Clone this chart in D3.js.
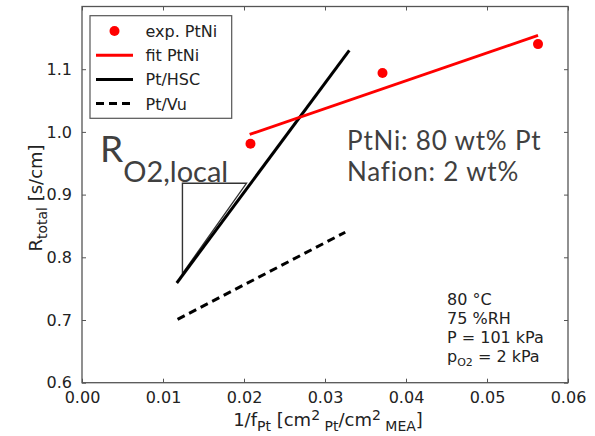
<!DOCTYPE html>
<html>
<head>
<meta charset="utf-8">
<script src="https://cdn.jsdelivr.net/npm/d3@7"></script>
<style>
  html, body { margin: 0; padding: 0; background: #fff; }
  svg { display: block; }
</style>
</head>
<body>
<svg id="chart" width="595" height="436"></svg>
<script>
// Measured points for PtNi and the linear fits
const expX = [0.0208, 0.0371, 0.0563];
const expY = [0.981, 1.094, 1.140];
const fitX = [0.0207, 0.0563];
const fitY = [0.996, 1.154];
const hscX = [0.0117, 0.0330];
const hscY = [0.759, 1.130];
const vuX = [0.0118, 0.0325];
const vuY = [0.701, 0.840];
// slope triangle (R_O2,local)
const triX = [0.0124, 0.0203, 0.0124];
const triY = [0.918, 0.918, 0.774];

const xTicks = [0.00, 0.01, 0.02, 0.03, 0.04, 0.05, 0.06];
const yTicks = [0.6, 0.7, 0.8, 0.9, 1.0, 1.1];

const svg = d3.select("#chart");
const pLeft = 82, pRight = 568, pTop = 6.5, pBottom = 382.7;
const x = d3.scaleLinear().domain([0, 0.06]).range([pLeft, pRight]);
const y = d3.scaleLinear().domain([0.6, 1.2]).range([pBottom, pTop]);

const FONT = "DejaVu Sans";
const AX = "#555";

// axes with inward ticks on all four sides
const xAxisB = d3.axisBottom(x).tickValues(xTicks).tickFormat(d3.format(".2f")).tickSizeInner(-4).tickSizeOuter(0).tickPadding(9);
const xAxisT = d3.axisTop(x).tickValues(xTicks).tickFormat("").tickSizeInner(-4).tickSizeOuter(0);
const yAxisL = d3.axisLeft(y).tickValues(yTicks).tickFormat(d3.format(".1f")).tickSizeInner(-4).tickSizeOuter(0).tickPadding(10);
const yAxisR = d3.axisRight(y).tickValues(yTicks).tickFormat("").tickSizeInner(-4).tickSizeOuter(0);

function style(g) {
  g.select(".domain").remove();
  g.selectAll(".tick line").attr("stroke", AX).attr("stroke-width", 1);
  g.selectAll(".tick text").attr("fill", "#222").style("font-family", FONT).style("font-size", "16px");
}
svg.append("g").attr("transform", `translate(0,${pBottom})`).call(xAxisB).call(style);
svg.append("g").attr("transform", `translate(0,${pTop})`).call(xAxisT).call(style);
svg.append("g").attr("transform", `translate(${pLeft},0)`).call(yAxisL).call(style);
svg.append("g").attr("transform", `translate(${pRight},0)`).call(yAxisR).call(style);

// frame
svg.append("rect").attr("x", pLeft).attr("y", pTop).attr("width", pRight - pLeft).attr("height", pBottom - pTop)
  .attr("fill", "none").attr("stroke", AX).attr("stroke-width", 1.3);

const line = d3.line().x(d => x(d[0])).y(d => y(d[1]));
const zip = (a, b) => a.map((v, i) => [v, b[i]]);

// slope triangle
svg.append("path").attr("d", line(zip(triX, triY)) + "Z")
  .attr("fill", "none").attr("stroke", "#333").attr("stroke-width", 1.4);

svg.append("path").attr("d", line(zip(vuX, vuY))).attr("fill", "none")
  .attr("stroke", "#000").attr("stroke-width", 3).attr("stroke-dasharray", "8,5");
svg.append("path").attr("d", line(zip(hscX, hscY))).attr("fill", "none")
  .attr("stroke", "#000").attr("stroke-width", 3);
svg.append("path").attr("d", line(zip(fitX, fitY))).attr("fill", "none")
  .attr("stroke", "#ff0000").attr("stroke-width", 2.8);
svg.selectAll("circle.exp").data(zip(expX, expY)).enter().append("circle")
  .attr("class", "exp").attr("cx", d => x(d[0])).attr("cy", d => y(d[1])).attr("r", 5).attr("fill", "#ff0000");

// legend
const lg = svg.append("g");
lg.append("rect").attr("x", 90).attr("y", 15.7).attr("width", 141.7).attr("height", 102.6)
  .attr("fill", "#fff").attr("stroke", AX).attr("stroke-width", 1.2);
const items = [
  { label: "exp. PtNi", type: "dot" },
  { label: "fit PtNi", type: "red" },
  { label: "Pt/HSC", type: "solid" },
  { label: "Pt/Vu", type: "dash" }
];
items.forEach((it, i) => {
  const cy = 31 + i * 24.2;
  if (it.type === "dot") {
    lg.append("circle").attr("cx", 114.5).attr("cy", cy).attr("r", 5).attr("fill", "#ff0000");
  } else {
    lg.append("line").attr("x1", 96).attr("x2", 133).attr("y1", cy).attr("y2", cy)
      .attr("stroke", it.type === "red" ? "#ff0000" : "#000").attr("stroke-width", 3)
      .attr("stroke-dasharray", it.type === "dash" ? "8,5" : null);
  }
  lg.append("text").attr("x", 145.5).attr("y", cy + 6).text(it.label)
    .attr("fill", "#222").style("font-family", FONT).style("font-size", "16px");
});

// axis titles
const yl = svg.append("text").attr("transform", "translate(42,198) rotate(-90)")
  .attr("text-anchor", "middle").attr("fill", "#222").style("font-family", FONT).style("font-size", "18px");
yl.append("tspan").text("R");
yl.append("tspan").attr("dy", 5).style("font-size", "14px").text("total");
yl.append("tspan").attr("dy", -5).text(" [s/cm]");

const xl = svg.append("text").attr("x", 328).attr("y", 426)
  .attr("text-anchor", "middle").attr("fill", "#222").style("font-family", FONT).style("font-size", "18px");
xl.append("tspan").text("1/f");
xl.append("tspan").attr("dy", 5).style("font-size", "14px").text("Pt");
xl.append("tspan").attr("dy", -5).text(" [cm");
xl.append("tspan").attr("dy", -6).style("font-size", "14px").text("2");
xl.append("tspan").attr("dy", 11).style("font-size", "14px").text(" Pt");
xl.append("tspan").attr("dy", -5).text("/cm");
xl.append("tspan").attr("dy", -6).style("font-size", "14px").text("2");
xl.append("tspan").attr("dy", 11).style("font-size", "14px").text(" MEA");
xl.append("tspan").attr("dy", -5).text("]");

// conditions
const cond = svg.append("g").attr("fill", "#222").style("font-family", FONT).style("font-size", "16px");
cond.append("text").attr("x", 447).attr("y", 305).text("80 °C");
cond.append("text").attr("x", 447).attr("y", 324).text("75 %RH");
cond.append("text").attr("x", 447).attr("y", 343).text("P = 101 kPa");
const po = cond.append("text").attr("x", 447).attr("y", 362);
po.append("tspan").text("p");
po.append("tspan").attr("dy", 4).style("font-size", "11px").text("O2");
po.append("tspan").attr("dy", -4).text(" = 2 kPa");

// catalyst description
const big = svg.append("g").attr("fill", "#404040").style("font-family", "Lato")
  .style("font-size", "26px").style("letter-spacing", "0.8px");
big.append("text").attr("x", 347).attr("y", 149.5).text("PtNi: 80 wt% Pt");
big.append("text").attr("x", 347).attr("y", 181).text("Nafion: 2 wt%");

const r = svg.append("text").attr("x", 100).attr("y", 162).attr("fill", "#404040")
  .style("font-family", "Lato").style("font-size", "37px");
r.append("tspan").text("R");
r.append("tspan").attr("dy", 20).style("font-size", "29px").text("O2,local");
</script>
</body>
</html>
